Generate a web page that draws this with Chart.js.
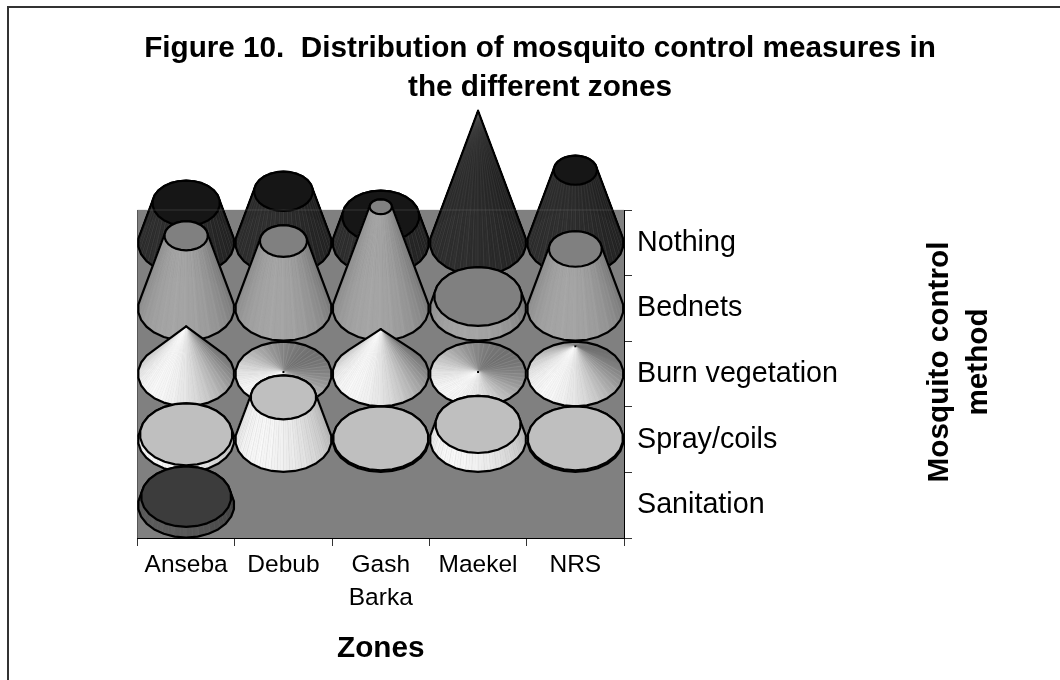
<!DOCTYPE html>
<html>
<head>
<meta charset="utf-8">
<title>Figure 10</title>
<script src="https://cdn.jsdelivr.net/npm/chart.js@4/dist/chart.umd.min.js"></script>
<style>
    html, body { margin: 0; padding: 0; background: #fff; overflow: hidden; }
    #frame { position: absolute; left: 7px; top: 6px; width: 1060px; height: 680px; border-left: 2px solid #333; border-top: 2px solid #333; }
    #chart { position: absolute; left: 0; top: 0; }
</style>
</head>
<body>
<div id="frame"></div>
<canvas id="chart" width="1060" height="680"></canvas>
<script>
const zones = ['Anseba', 'Debub', ['Gash', 'Barka'], 'Maekel', 'NRS'];
const methods = ['Nothing', 'Bednets', 'Burn vegetation', 'Spray/coils', 'Sanitation'];

// read off the cone heights, 100 = tallest cone (value axis is not shown in the original)
const nothing = [30, 39, 20, 100, 55];
const bednets = [55, 51, 77, 9, 45];
const burnVegetation = [36, 1.5, 34, 1.5, 21];
const sprayCoils = [4, 32, 1, 11.5, 1];
const sanitation = [6.5, 0, 0, 0, 0];

const titleLines = ['Figure 10.  Distribution of mosquito control measures in', 'the different zones'];
const yTitleLines = ['Mosquito control', 'method'];
const xTitle = 'Zones';

const coneMax = 100;
const zAxisMax = 248.5;
const fontName = '"Liberation Sans", Arial, sans-serif';

// top of the cut cone shrinks with the value, burn vegetation always runs to a point
const seriesList = [
    { label: 'Nothing', values: nothing, pointed: false, top: '#161616', dark: 24, light: 44, lightDeg: 120, stripe: 'rgba(170,170,170,0.12)' },
    { label: 'Bednets', values: bednets, pointed: false, top: '#808080', dark: 90, light: 164, lightDeg: 105, stripe: 'rgba(210,210,210,0.07)' },
    { label: 'Burn vegetation', values: burnVegetation, pointed: true, top: '#000000', dark: 112, light: 246, lightDeg: 135, stripe: 'rgba(255,255,255,0.12)' },
    { label: 'Spray/coils', values: sprayCoils, pointed: false, top: '#bfbfbf', dark: 165, light: 246, lightDeg: 125, stripe: 'rgba(150,150,150,0.12)' },
    { label: 'Sanitation', values: sanitation, pointed: false, top: '#3c3c3c', dark: 52, light: 90, lightDeg: 125, stripe: 'rgba(150,150,150,0.10)' }
];

function ringPoints(cx, cy, rx, ry, n) {
    const pts = [];
    for (let i = 0; i < n; i++) {
        const a = (i + 0.5) / n * Math.PI * 2;
        pts.push([cx + rx * Math.cos(a), cy + ry * Math.sin(a)]);
    }
    return pts;
}

function convexHull(points) {
    const pts = points.slice().sort((a, b) => a[0] - b[0] || a[1] - b[1]);
    const cross = (o, a, b) => (a[0] - o[0]) * (b[1] - o[1]) - (a[1] - o[1]) * (b[0] - o[0]);
    const lower = [];
    const upper = [];
    pts.forEach(p => {
        while (lower.length > 1 && cross(lower[lower.length - 2], lower[lower.length - 1], p) <= 0) lower.pop();
        lower.push(p);
    });
    pts.slice().reverse().forEach(p => {
        while (upper.length > 1 && cross(upper[upper.length - 2], upper[upper.length - 1], p) <= 0) upper.pop();
        upper.push(p);
    });
    return lower.slice(0, -1).concat(upper.slice(0, -1));
}

function tracePoly(ctx, pts) {
    ctx.beginPath();
    pts.forEach((p, i) => i ? ctx.lineTo(p[0], p[1]) : ctx.moveTo(p[0], p[1]));
    ctx.closePath();
}

function drawCone(ctx, cx, cy, rx, ry, height, topRatio, style) {
    const lightAngle = style.lightDeg * Math.PI / 180;
    const facets = 96;
    const topY = cy - height;
    const list = [];
    for (let i = 0; i < facets; i++) {
        list.push({ a0: i / facets * Math.PI * 2, a1: (i + 1) / facets * Math.PI * 2, i: i });
    }
    // back facets first, the front ones paint over them
    list.sort((p, q) => Math.sin((p.a0 + p.a1) / 2) - Math.sin((q.a0 + q.a1) / 2));

    list.forEach(f => {
        const mid = (f.a0 + f.a1) / 2;
        const t = (1 + Math.cos(mid - lightAngle)) / 2;
        const g = Math.round(style.dark + (style.light - style.dark) * t + (f.i % 4 === 0 ? 3 : 0));
        const col = 'rgb(' + g + ',' + g + ',' + g + ')';
        ctx.fillStyle = col;
        ctx.strokeStyle = col;
        ctx.lineWidth = 0.6;
        tracePoly(ctx, [
            [cx + rx * Math.cos(f.a0), cy + ry * Math.sin(f.a0)],
            [cx + rx * Math.cos(f.a1), cy + ry * Math.sin(f.a1)],
            [cx + rx * topRatio * Math.cos(f.a1), topY + ry * topRatio * Math.sin(f.a1)],
            [cx + rx * topRatio * Math.cos(f.a0), topY + ry * topRatio * Math.sin(f.a0)]
        ]);
        ctx.fill();
        ctx.stroke();
    });

    // thin streaks, they pile up towards the tip
    ctx.strokeStyle = style.stripe;
    ctx.lineWidth = 0.8;
    list.forEach(f => {
        if (f.i % 2) return;
        if (Math.sin(f.a0) < -0.05 && height > 20) return;
        ctx.beginPath();
        ctx.moveTo(cx + rx * Math.cos(f.a0), cy + ry * Math.sin(f.a0));
        ctx.lineTo(cx + rx * topRatio * Math.cos(f.a0), topY + ry * topRatio * Math.sin(f.a0));
        ctx.stroke();
    });

    const base = ringPoints(cx, cy, rx, ry, 26);
    const top = topRatio > 0 ? ringPoints(cx, topY, rx * topRatio, ry * topRatio, 26) : [[cx, topY]];

    ctx.strokeStyle = '#000';
    ctx.lineWidth = 2.2;
    ctx.lineJoin = 'round';
    tracePoly(ctx, convexHull(base.concat(top)));
    ctx.stroke();

    if (topRatio > 0) {
        ctx.fillStyle = style.top;
        tracePoly(ctx, top);
        ctx.fill();
        ctx.stroke();
    } else {
        ctx.fillStyle = '#000';
        ctx.fillRect(cx - 1, topY - 1, 2, 2);
    }
}

const conePlugin = {
    id: 'cones',
    beforeDatasetsDraw(chart) {
        const { ctx, chartArea: area } = chart;
        ctx.save();
        ctx.fillStyle = '#808080';
        ctx.fillRect(area.left, area.top, area.right - area.left, area.bottom - area.top);
        ctx.strokeStyle = '#555';
        ctx.lineWidth = 1;
        ctx.beginPath();
        ctx.moveTo(area.left, area.top);
        ctx.lineTo(area.left, area.bottom);
        ctx.stroke();
        ctx.restore();
    },
    afterDatasetsDraw(chart) {
        const { ctx, scales, chartArea: area } = chart;
        const rx = (scales.x.getPixelForValue(1) - scales.x.getPixelForValue(0)) / 2;
        const ry = (scales.y.getPixelForValue(1) - scales.y.getPixelForValue(0)) / 2;
        ctx.save();
        seriesList.forEach((series, s) => {
            chart.getDatasetMeta(s).data.forEach((pt, k) => {
                const v = series.values[k];
                if (!v) return;
                const h = scales.z.getPixelForValue(0) - scales.z.getPixelForValue(v);
                const topRatio = series.pointed ? 0 : 1 - v / coneMax;
                drawCone(ctx, pt.x, pt.y, rx - 0.5, ry - 0.5, h, topRatio, series);
            });
            // the back wall edge shows faintly through the first row
            if (s === 0) {
                ctx.strokeStyle = 'rgba(128,128,128,0.3)';
                ctx.lineWidth = 1;
                ctx.beginPath();
                ctx.moveTo(area.left, area.top);
                ctx.lineTo(area.right, area.top);
                ctx.stroke();
            }
        });
        ctx.restore();

        // right hand axis title reads upwards here, Chart.js only turns it the other way
        ctx.save();
        ctx.fillStyle = '#000';
        ctx.font = 'bold 29.7px ' + fontName;
        ctx.textAlign = 'center';
        ctx.textBaseline = 'alphabetic';
        yTitleLines.forEach((line, i) => {
            ctx.save();
            ctx.translate(947.5 + i * 39, 362);
            ctx.rotate(-Math.PI / 2);
            ctx.fillText(line, 0, 0);
            ctx.restore();
        });
        ctx.restore();
    }
};

new Chart(document.getElementById('chart'), {
    type: 'scatter',
    data: {
        datasets: seriesList.map((series, s) => ({
            label: series.label,
            data: series.values.map((v, k) => ({ x: k, y: methods[s] })),
            pointRadius: 0,
            pointHoverRadius: 0
        }))
    },
    plugins: [conePlugin],
    options: {
        responsive: false,
        animation: false,
        devicePixelRatio: 1,
        layout: { padding: { left: 137.5, right: 117.5, top: 0, bottom: 0 } },
        plugins: {
            legend: { display: false },
            tooltip: { enabled: false },
            title: {
                display: true,
                text: titleLines,
                color: '#000',
                font: { family: fontName, size: 29.7, weight: 'bold', lineHeight: 1.33 },
                padding: { top: 29, bottom: 102 }
            }
        },
        scales: {
            x: {
                type: 'category',
                labels: zones,
                offset: true,
                position: 'bottom',
                afterFit(scale) { scale.height = 142; },
                grid: { offset: true, drawOnChartArea: false, drawTicks: true, tickLength: 8, color: '#333' },
                border: { color: '#000', width: 1 },
                ticks: {
                    autoSkip: false,
                    maxRotation: 0,
                    minRotation: 0,
                    padding: 3,
                    color: '#000',
                    font: { family: fontName, size: 24.5, lineHeight: 1.33 }
                },
                title: {
                    display: true,
                    text: xTitle,
                    color: '#000',
                    font: { family: fontName, size: 29.7, weight: 'bold' },
                    padding: { top: 0, bottom: 13 }
                }
            },
            y: {
                type: 'category',
                labels: methods,
                offset: true,
                position: 'right',
                afterFit(scale) { scale.width = 318.5; },
                grid: { offset: true, drawOnChartArea: false, drawTicks: true, tickLength: 8, color: '#333' },
                border: { color: '#000', width: 1 },
                ticks: {
                    autoSkip: false,
                    padding: 5,
                    color: '#000',
                    font: { family: fontName, size: 28.7 }
                }
            },
            z: {
                type: 'linear',
                axis: 'y',
                display: false,
                min: 0,
                max: zAxisMax
            }
        }
    }
});
</script>
</body>
</html>
